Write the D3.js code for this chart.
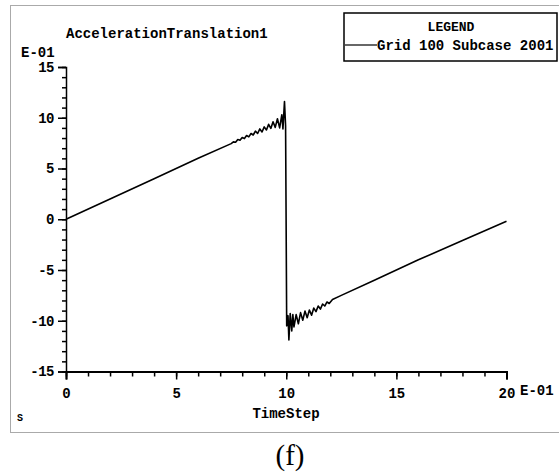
<!DOCTYPE html>
<html>
<head>
<meta charset="utf-8">
<script src="https://cdn.jsdelivr.net/npm/d3@7"></script>
<style>
  body { margin: 0; background: #fff; }
  svg { display: block; }
  text { font-family: "Liberation Mono", "DejaVu Sans Mono", monospace; font-weight: bold; fill: #000; }
</style>
</head>
<body>
<div id="chart"></div>
<script>
// time step (E-01) and acceleration (E-01)
const timeStep = [0, 2, 4, 6, 7.5,
  7.6, 7.7, 7.8, 7.9, 8.0, 8.1, 8.2, 8.3, 8.4, 8.5, 8.6, 8.7, 8.8, 8.9, 9.0,
  9.1, 9.2, 9.3, 9.4, 9.5, 9.6, 9.7, 9.8, 9.85, 9.92, 9.97,
  10.02, 10.08, 10.12, 10.18, 10.25, 10.3, 10.35, 10.45, 10.55, 10.65, 10.75,
  10.85, 10.95, 11.05, 11.15, 11.25, 11.35, 11.45, 11.55, 11.65, 11.75, 11.85,
  11.95, 12.1, 12.5, 14, 16, 18, 20];
const acceleration = [0, 2, 4, 6, 7.45,
  7.62, 7.58, 7.85, 7.78, 8.05, 7.95, 8.25, 8.12, 8.45, 8.3, 8.68, 8.45, 8.9, 8.6, 9.1,
  8.8, 9.35, 8.95, 9.6, 9.05, 9.9, 9.0, 10.3, 8.9, 11.6, 9.2,
  -10.5, -9.5, -11.9, -9.3, -11.0, -9.4, -10.6, -9.4, -10.3, -9.2, -9.95,
  -9.05, -9.7, -8.95, -9.45, -8.75, -9.1, -8.55, -8.85, -8.35, -8.55, -8.15,
  -8.3, -7.9, -7.5, -6, -4, -2.1, -0.2];

const xMajor = [0, 5, 10, 15, 20];
const xLabels = ["0", "5", "10", "15", "20"];
const yMajor = [-15, -10, -5, 0, 5, 10, 15];
const yLabels = ["-15", "-10", "-5", "0", "5", "10", "15"];
const xMinor = d3.range(0, 21, 1);
const yMinor = d3.range(-15, 16, 1);

const W = 559, H = 474;
const svg = d3.select("#chart").append("svg")
  .attr("width", W)
  .attr("height", H);

// outer dotted frame
svg.append("rect")
  .attr("x", 10.5).attr("y", 5.5)
  .attr("width", 560).attr("height", 427)
  .attr("fill", "none")
  .attr("stroke", "#555")
  .attr("stroke-dasharray", "1,1");

const x = d3.scaleLinear().domain([0, 20]).range([66, 506.5]);
const y = d3.scaleLinear().domain([-15, 15]).range([371.5, 67]);

// minor ticks
svg.append("g")
  .attr("transform", `translate(0,${y(-15)})`)
  .call(d3.axisBottom(x).tickValues(xMinor).tickSize(5).tickFormat(""))
  .call(g => g.select(".domain").remove())
  .selectAll("line").attr("stroke-width", 1.5);
svg.append("g")
  .attr("transform", `translate(${x(0)},0)`)
  .call(d3.axisLeft(y).tickValues(yMinor).tickSize(4).tickFormat(""))
  .call(g => g.select(".domain").remove())
  .selectAll("line").attr("stroke-width", 1.5);

// major ticks and labels
const xAxis = svg.append("g")
  .attr("transform", `translate(0,${y(-15)})`)
  .call(d3.axisBottom(x).tickValues(xMajor).tickSizeOuter(0).tickSize(8).tickPadding(9)
    .tickFormat((d, i) => xLabels[i]));
xAxis.select(".domain").attr("stroke-width", 2);
xAxis.selectAll("line").attr("stroke-width", 1.5);
xAxis.selectAll("text").attr("font-size", 14).attr("font-family", "Liberation Mono").attr("font-weight", "bold");

const yAxis = svg.append("g")
  .attr("transform", `translate(${x(0)},0)`)
  .call(d3.axisLeft(y).tickValues(yMajor).tickSizeOuter(0).tickSize(8).tickPadding(4)
    .tickFormat((d, i) => yLabels[i]));
yAxis.select(".domain").attr("stroke-width", 1.5);
yAxis.selectAll("line").attr("stroke-width", 1.5);
yAxis.selectAll("text").attr("font-size", 14).attr("font-family", "Liberation Mono").attr("font-weight", "bold")
  .attr("letter-spacing", "-0.5");

// data line
const pts = timeStep.map((t, i) => [t, acceleration[i]]);
svg.append("path")
  .datum(pts)
  .attr("fill", "none")
  .attr("stroke", "#000")
  .attr("stroke-width", 1.6)
  .attr("stroke-linejoin", "round")
  .attr("d", d3.line().x(d => x(d[0])).y(d => y(d[1])));

// titles
svg.append("text").attr("x", 66).attr("y", 38).attr("font-size", 14)
  .text("AccelerationTranslation1");
svg.append("text").attr("x", 21).attr("y", 57).attr("font-size", 14)
  .text("E-01");
svg.append("text").attr("x", 520).attr("y", 395).attr("font-size", 14)
  .text("E-01");
svg.append("text").attr("x", 286).attr("y", 418).attr("font-size", 14)
  .attr("text-anchor", "middle").text("TimeStep");
svg.append("text").attr("x", 17).attr("y", 421).attr("font-size", 10)
  .attr("font-weight", "normal").attr("fill", "#444").text("S");

// legend
svg.append("rect")
  .attr("x", 344).attr("y", 13)
  .attr("width", 213).attr("height", 48)
  .attr("fill", "#fff").attr("stroke", "#000").attr("stroke-width", 1.5);
svg.append("text").attr("x", 451).attr("y", 31).attr("font-size", 13)
  .attr("text-anchor", "middle").text("LEGEND");
svg.append("line")
  .attr("x1", 345).attr("x2", 377).attr("y1", 45).attr("y2", 45)
  .attr("stroke", "#000").attr("stroke-width", 1.2);
svg.append("text").attr("x", 377).attr("y", 50).attr("font-size", 14)
  .text("Grid 100 Subcase 2001");

// panel caption
svg.append("text").attr("x", 290).attr("y", 465)
  .attr("text-anchor", "middle")
  .style("font-family", "'Liberation Serif', 'DejaVu Serif', serif")
  .style("font-weight", "normal")
  .attr("font-size", 29).text("(f)");
</script>
</body>
</html>
